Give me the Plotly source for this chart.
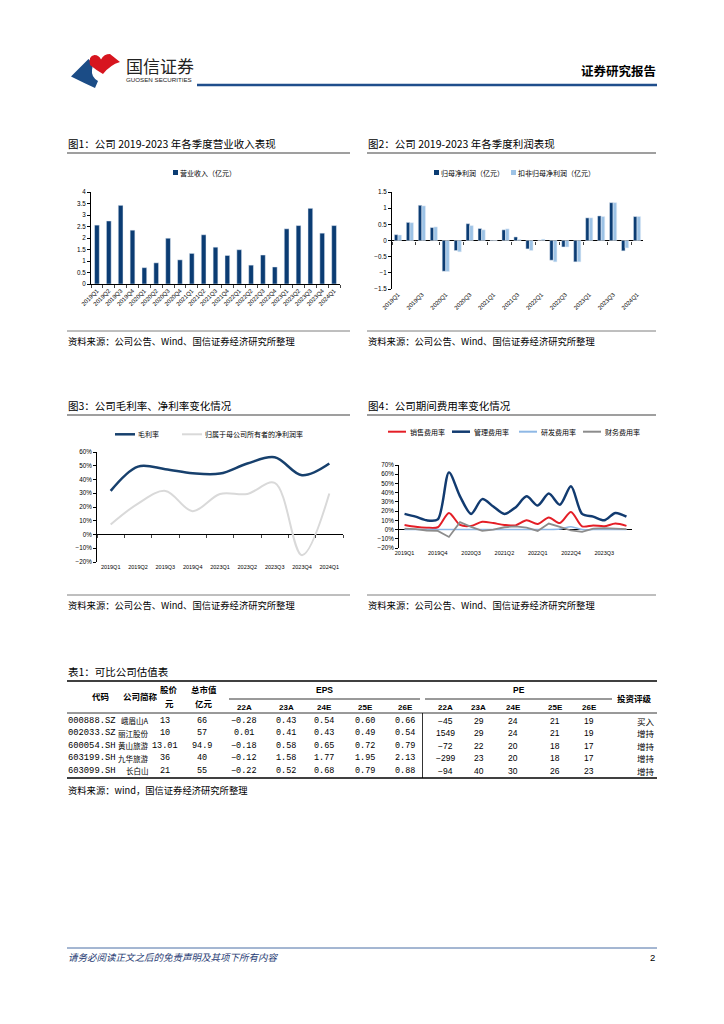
import plotly.graph_objects as go

# The page body has an 8px default margin, so the figure is sized and
# positioned to start 8px in and fill the rest of the 724x1024 window.
OFF = 8
W, H = 724 - OFF, 1024 - OFF
def X(x): return (x - OFF) / W
def Y(y): return 1 - (y - OFF) / H

CJK = "Noto Sans CJK SC"
LAT = "Liberation Sans"

# ---------------- data ----------------
quarters = ['2019Q1', '2019Q2', '2019Q3', '2019Q4', '2020Q1', '2020Q2', '2020Q3', '2020Q4',
            '2021Q1', '2021Q2', '2021Q3', '2021Q4', '2022Q1', '2022Q2', '2022Q3', '2022Q4',
            '2023Q1', '2023Q2', '2023Q3', '2023Q4', '2024Q1']
revenue = [2.56, 2.74, 3.42, 2.34, 0.71, 0.92, 1.99, 1.05, 1.33, 2.14, 1.60, 1.24, 1.49, 0.82,
           1.26, 0.74, 2.40, 2.54, 3.29, 2.21, 2.54]
np_parent = [0.18, 0.56, 1.09, 0.40, -0.95, -0.31, 0.52, 0.37, -0.01, 0.33, 0.11, -0.26, 0.01,
             -0.61, -0.20, -0.66, 0.70, 0.76, 1.17, -0.32, 0.74]
np_deducted = [0.17, 0.55, 1.07, 0.42, -0.96, -0.35, 0.46, 0.33, -0.01, 0.36, 0.03, -0.31, 0.04,
               -0.66, -0.20, -0.66, 0.70, 0.74, 1.17, -0.23, 0.74]
fig2_ticks = ['2019Q1', '2019Q3', '2020Q1', '2020Q3', '2021Q1', '2021Q3', '2022Q1', '2022Q3',
              '2023Q1', '2023Q3', '2024Q1']

margin_q = ['2019Q1', '2019Q2', '2019Q3', '2019Q4', '2023Q1', '2023Q2', '2023Q3', '2023Q4', '2024Q1']
gross_margin = [0.317, 0.494, 0.475, 0.445, 0.443, 0.516, 0.562, 0.431, 0.516]
net_margin = [0.073, 0.225, 0.317, 0.170, 0.295, 0.295, 0.375, -0.150, 0.298]

sales_ratio = [0.05, 0.03, 0.02, 0.025, 0.18, 0.05, 0.04, 0.085, 0.07, 0.05, 0.045, 0.10, 0.06,
               0.13, 0.07, 0.19, 0.035, 0.045, 0.035, 0.065, 0.04]
admin_ratio = [0.17, 0.14, 0.10, 0.11, 0.62, 0.36, 0.17, 0.33, 0.25, 0.17, 0.24, 0.36, 0.26,
               0.39, 0.27, 0.47, 0.17, 0.14, 0.10, 0.18, 0.14]
rd_ratio = [0, 0, 0, 0, 0, 0, 0, 0, 0, 0, 0, 0, 0, 0, 0.005, 0.03, 0, 0, 0, 0, 0]
fin_ratio = [0.01, 0.005, -0.01, -0.015, -0.08, 0.08, 0.03, -0.015, 0.0, 0.025, 0.035, 0.02,
             -0.015, 0.065, 0.03, -0.01, -0.025, 0.01, 0.015, 0.01, 0.005]
fig4_ticks = ['2019Q1', '2019Q4', '2020Q3', '2021Q2', '2022Q1', '2022Q4', '2023Q3']

tbl_codes = ['000888.SZ', '002033.SZ', '600054.SH', '603199.SH', '603099.SH']
tbl_names = ['峨眉山A', '丽江股份', '黄山旅游', '九华旅游', '长白山']
tbl_price = ['13', '10', '13.01', '36', '21']
tbl_mcap = ['66', '57', '94.9', '40', '55']
tbl_years = ['22A', '23A', '24E', '25E', '26E']
tbl_eps = [[-0.28, 0.43, 0.54, 0.60, 0.66],
           [0.01, 0.41, 0.43, 0.49, 0.54],
           [-0.18, 0.58, 0.65, 0.72, 0.79],
           [-0.12, 1.58, 1.77, 1.95, 2.13],
           [-0.22, 0.52, 0.68, 0.79, 0.88]]
tbl_pe = [[-45, 29, 24, 21, 19],
          [1549, 29, 24, 21, 19],
          [-72, 22, 20, 18, 17],
          [-299, 23, 20, 18, 17],
          [-94, 40, 30, 26, 23]]
tbl_rating = ['买入', '增持', '增持', '增持', '增持']

# ---------------- colours ----------------
NAVY = '#0B3C73'
LIGHT = '#9DC3E6'
C_GROSS, C_NET = '#17406D', '#D9D9D9'
C_SALES, C_ADMIN, C_RD, C_FIN = '#E41E26', '#123B70', '#8EB8E5', '#8C8C8C'

fig = go.Figure()
# chart 1
fig.add_trace(go.Bar(x=quarters, y=revenue, name='营业收入（亿元）', marker_color=NAVY,
                     width=0.4, offset=-0.2, xaxis='x', yaxis='y'))
# chart 2
fig.add_trace(go.Bar(x=quarters, y=np_parent, name='归母净利润（亿元）', marker_color=NAVY,
                     width=0.3, offset=-0.3, xaxis='x2', yaxis='y2'))
fig.add_trace(go.Bar(x=quarters, y=np_deducted, name='扣非归母净利润（亿元）', marker_color=LIGHT,
                     width=0.3, offset=0.0, xaxis='x2', yaxis='y2'))
fig.add_trace(go.Scatter(x=quarters, y=[None] * len(quarters), xaxis='x5', yaxis='y2',
                         hoverinfo='skip', mode='lines'))
# chart 3
fig.add_trace(go.Scatter(x=margin_q, y=gross_margin, name='毛利率', mode='lines',
                         line=dict(color=C_GROSS, width=2.5, shape='spline', smoothing=1.0),
                         xaxis='x3', yaxis='y3'))
fig.add_trace(go.Scatter(x=margin_q, y=net_margin, name='归属于母公司所有者的净利润率', mode='lines',
                         line=dict(color=C_NET, width=2, shape='spline', smoothing=1.0),
                         xaxis='x3', yaxis='y3'))
fig.add_trace(go.Scatter(x=margin_q, y=[None] * len(margin_q), xaxis='x6', yaxis='y3',
                         hoverinfo='skip', mode='lines'))
# chart 4
fig.add_trace(go.Scatter(x=quarters, y=sales_ratio, name='销售费用率', mode='lines',
                         line=dict(color=C_SALES, width=2, shape='spline', smoothing=0.8),
                         xaxis='x4', yaxis='y4'))
fig.add_trace(go.Scatter(x=quarters, y=admin_ratio, name='管理费用率', mode='lines',
                         line=dict(color=C_ADMIN, width=2.5, shape='spline', smoothing=0.8),
                         xaxis='x4', yaxis='y4'))
fig.add_trace(go.Scatter(x=quarters, y=rd_ratio, name='研发费用率', mode='lines',
                         line=dict(color=C_RD, width=1.5, shape='spline', smoothing=0.8),
                         xaxis='x4', yaxis='y4'))
fig.add_trace(go.Scatter(x=quarters, y=fin_ratio, name='财务费用率', mode='lines',
                         line=dict(color=C_FIN, width=1.8),
                         xaxis='x4', yaxis='y4'))

tickfont = dict(family=LAT, size=6.3, color='#000')
small = dict(family=LAT, size=5.5, color='#000')
rot = dict(family=LAT, size=6, color='#000')

def yax(anchor, domain, rng, dtick, fmt=None, zero=False):
    d = dict(anchor=anchor, domain=[Y(domain[1]), Y(domain[0])], range=rng, dtick=dtick,
             showgrid=False, showline=True, linecolor='#000', linewidth=1, ticks='outside',
             ticklen=3, tickcolor='#000', tickfont=tickfont, automargin=False, zeroline=zero,
             zerolinecolor='#000', zerolinewidth=1, fixedrange=True)
    if fmt:
        d['tickformat'] = fmt
    return d

fig.update_layout(
    width=W, height=H, margin=dict(l=0, r=0, t=0, b=0), paper_bgcolor='white',
    plot_bgcolor='rgba(0,0,0,0)', barmode='group', showlegend=False,
    xaxis=dict(domain=[X(91), X(340)], anchor='y', type='category', range=[-0.5, 20.5],
               showline=True, linecolor='#000', linewidth=1, ticks='outside', ticklen=3,
               tickson='boundaries', tickangle=-45, tickfont=rot, showgrid=False,
               automargin=False),
    yaxis=yax('x', (192, 284), [0, 4], 0.5),
    xaxis2=dict(domain=[X(392), X(643)], anchor='y2', type='category', range=[-0.5, 20.5],
                showline=False, ticks='', tickvals=fig2_ticks, tickangle=-45, tickfont=rot,
                showgrid=False, automargin=False),
    yaxis2=yax('x2', (192, 289), [-1.5, 1.5], 0.5, zero=True),
    xaxis5=dict(overlaying='x2', anchor='free', position=Y(240.5), type='category',
                range=[-0.5, 20.5], showline=False, ticks='outside', ticklen=3,
                tickson='boundaries', showticklabels=False, showgrid=False, automargin=False),
    xaxis3=dict(domain=[X(97), X(343)], anchor='y3', type='category', range=[-0.5, 8.5],
                showline=False, ticks='', tickfont=small, showgrid=False, automargin=False),
    yaxis3=yax('x3', (452, 562), [-0.2, 0.6], 0.1, fmt='.0%', zero=True),
    xaxis6=dict(overlaying='x3', anchor='free', position=Y(534.3), type='category',
                range=[-0.5, 8.5], showline=False, ticks='outside', ticklen=3,
                tickson='boundaries', showticklabels=False, showgrid=False, automargin=False),
    xaxis4=dict(domain=[X(399), X(632)], anchor='y4', type='category', range=[-0.5, 20.5],
                showline=False, ticks='', tickvals=fig4_ticks, tickangle=0, tickfont=small,
                showgrid=False, automargin=False),
    yaxis4=yax('x4', (465, 548), [-0.2, 0.7], 0.1, fmt='.0%', zero=True),
)

# ---------------- page decoration ----------------
shapes = []
ann = []

def line(x0, y0, x1, y1, color='#7F7F7F', width=1):
    shapes.append(dict(type='line', xref='paper', yref='paper', x0=X(x0), y0=Y(y0),
                       x1=X(x1), y1=Y(y1), line=dict(color=color, width=width)))

def rect(x0, y0, x1, y1, color):
    shapes.append(dict(type='rect', xref='paper', yref='paper', x0=X(x0), y0=Y(y0),
                       x1=X(x1), y1=Y(y1), fillcolor=color, line=dict(width=0)))

def txt(x, y, s, size, color='#000', anchor='left', family=CJK):
    ann.append(dict(x=X(x), y=Y(y), xref='paper', yref='paper', text=s, showarrow=False,
                    xanchor=anchor, yanchor='middle', borderpad=0,
                    font=dict(size=size, color=color, family=family)))

def path(cmds):
    out = []
    for c in cmds:
        out.append(c[0] + ' ' + ' '.join(f'{X(px):.5f},{Y(py):.5f}' for px, py in c[1:]))
    return ' '.join(out) + ' Z'

# legends (key swatches + labels)
LF = 7
rect(173, 170, 178, 175, NAVY); txt(179, 172.5, '营业收入（亿元）', LF)
rect(434, 170, 439, 175, NAVY); txt(440, 172.5, '归母净利润（亿元）', LF)
rect(511, 170, 516, 175, LIGHT); txt(517, 172.5, '扣非归母净利润（亿元）', LF)
line(115, 434.3, 135, 434.3, color=C_GROSS, width=2.5); txt(137, 434.3, '毛利率', LF)
line(182, 434.3, 202, 434.3, color=C_NET, width=2); txt(204, 434.3, '归属于母公司所有者的净利润率', LF)
for lx, col, wd, name in [(388, C_SALES, 2, '销售费用率'), (452, C_ADMIN, 2.5, '管理费用率'),
                          (519, C_RD, 2, '研发费用率'), (583, C_FIN, 2, '财务费用率')]:
    line(lx, 431.7, lx + 18, 431.7, color=col, width=wd)
    txt(lx + 21, 431.7, name, LF)

# logo
shapes.append(dict(type='path', xref='paper', yref='paper', fillcolor='#1B4C86', line=dict(width=0),
                   path=path([('M', (71, 76.5)), ('L', (88.5, 59)), ('Q', (94, 64), (92, 70)),
                              ('Q', (91, 77), (98, 81)), ('L', (95, 88)), ('Q', (84, 83), (71, 76.5))])))
shapes.append(dict(type='path', xref='paper', yref='paper', fillcolor='#D7151F', line=dict(width=0),
                   path=path([('M', (90, 65)), ('Q', (88, 56), (94.5, 55)), ('Q', (99, 55), (101, 59.5)),
                              ('Q', (104, 54), (110, 54)), ('L', (120, 62)), ('Q', (110, 65), (103, 74)),
                              ('Q', (96, 70), (90, 65))])))
txt(125, 65, '国信证券', 17, color='#222')
txt(125, 80, 'GUOSEN SECURITIES', 6.2, color='#222', family=LAT)
line(197, 85, 657, 85, color='#1F4E8C', width=2.5)
txt(657, 70, '<b>证券研究报告</b>', 12.5, anchor='right')

# section titles and sources
txt(67, 144, '图1：公司 2019-2023 年各季度营业收入表现', 10.5)
txt(367, 144, '图2：公司 2019-2023 年各季度利润表现', 10.5)
line(67, 153, 350, 153, width=1.5)
line(367, 153, 656, 153, width=1.5)
line(67, 331, 350, 331, width=1)
line(367, 331, 656, 331, width=1)
txt(67, 341, '资料来源：公司公告、Wind、国信证券经济研究所整理', 9.3)
txt(367, 341, '资料来源：公司公告、Wind、国信证券经济研究所整理', 9.3)

txt(67, 406, '图3：公司毛利率、净利率变化情况', 10.5)
txt(367, 406, '图4：公司期间费用率变化情况', 10.5)
line(67, 415, 350, 415, width=1.5)
line(367, 415, 656, 415, width=1.5)
line(67, 595, 350, 595, width=1)
line(367, 595, 656, 595, width=1)
txt(67, 605, '资料来源：公司公告、Wind、国信证券经济研究所整理', 9.3)
txt(367, 605, '资料来源：公司公告、Wind、国信证券经济研究所整理', 9.3)

# ---------------- table ----------------
txt(67, 671, '表1：可比公司估值表', 10.5)
line(67, 681, 657, 681, color='#000', width=1.5)
line(229, 699, 420, 699, color='#000', width=0.8)
line(425, 699, 612, 699, color='#000', width=0.8)
line(67, 713, 657, 713, color='#000', width=0.8)
line(67, 778, 657, 778, color='#000', width=1.5)
line(422.5, 713, 422.5, 778, color='#000', width=0.8)

HF = 8.5
txt(101, 696, '<b>代码</b>', HF, anchor='center')
txt(140, 696, '<b>公司简称</b>', HF, anchor='center')
txt(169, 689, '<b>股价</b>', HF, anchor='center')
txt(169, 703, '<b>元</b>', HF, anchor='center')
txt(204, 689, '<b>总市值</b>', HF, anchor='center')
txt(204, 703, '<b>亿元</b>', HF, anchor='center')
txt(324, 690, '<b>EPS</b>', HF, anchor='center', family=LAT)
txt(519, 690, '<b>PE</b>', HF, anchor='center', family=LAT)
txt(634, 698, '<b>投资评级</b>', HF, anchor='center')
eps_x = [244, 286, 324, 365, 405]
pe_x = [445, 479, 513, 555, 589]
for j, yl in enumerate(tbl_years):
    txt(eps_x[j], 707, f'<b>{yl}</b>', 8, anchor='center', family=LAT)
    txt(pe_x[j], 707, f'<b>{yl}</b>', 8, anchor='center', family=LAT)

row_y = [720.5, 733, 745.5, 758, 770.5]
NF = "Liberation Mono"
def fmt_num(v, d):
    s = f'{abs(v):.{d}f}'
    return ('−' + s) if v < 0 else s
for i in range(len(tbl_codes)):
    y = row_y[i]
    txt(67, y, tbl_codes[i], 8.8, family=NF)
    txt(150, y, tbl_names[i], 7.5, anchor='right')
    txt(165, y, tbl_price[i], 8.5, anchor='center', family=NF)
    txt(202, y, tbl_mcap[i], 8.5, anchor='center', family=NF)
    for j in range(5):
        txt(eps_x[j], y, fmt_num(tbl_eps[i][j], 2), 8.5, anchor='center', family=NF)
        txt(pe_x[j], y, fmt_num(tbl_pe[i][j], 0), 8.5, anchor='center', family=LAT)
    txt(656, y, tbl_rating[i], 8.5, anchor='right')
txt(67, 790, '资料来源：wind，国信证券经济研究所整理', 9.3)

# footer
line(67, 948, 657, 948, color='#4A6FA5', width=1)
txt(67, 957, '<i>请务必阅读正文之后的免责声明及其项下所有内容</i>', 9.5, color='#1F3B73')
txt(656, 957, '2', 9.5, anchor='right', family=LAT)

fig.update_layout(shapes=shapes, annotations=ann)
fig.write_html('out.html')
